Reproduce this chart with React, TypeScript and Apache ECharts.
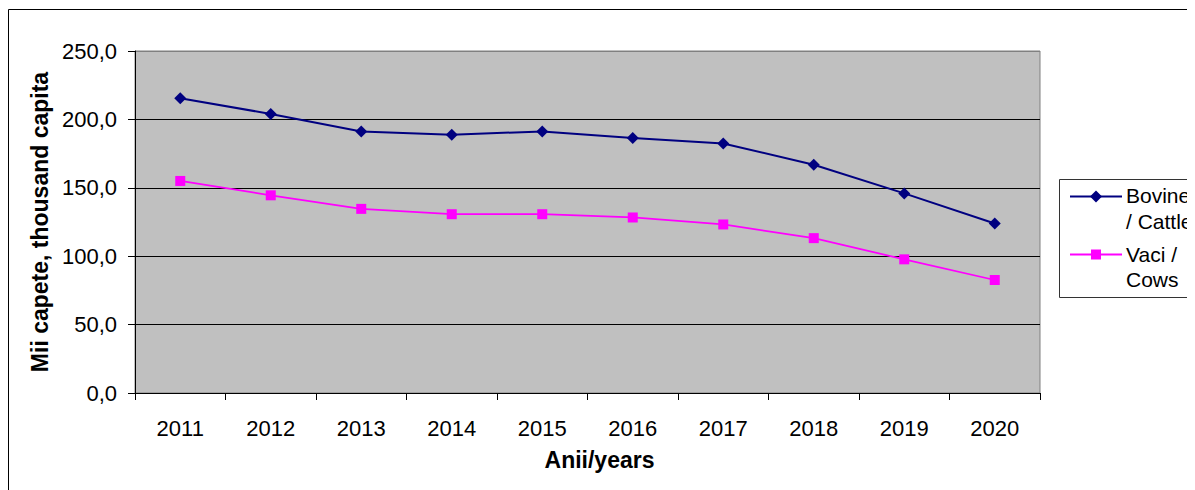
import React, { useEffect, useRef } from "react";
import * as echarts from "echarts";

const years = ["2011", "2012", "2013", "2014", "2015", "2016", "2017", "2018", "2019", "2020"];
const bovine = [215.5, 204.0, 191.2, 188.8, 191.2, 186.4, 182.4, 166.9, 145.9, 123.9];
const vaci = [155.0, 144.5, 134.6, 130.7, 130.7, 128.3, 123.2, 113.2, 97.7, 82.6];
const yTickLabels = ["0,0", "50,0", "100,0", "150,0", "200,0", "250,0"];
const seriesNames = ["Bovine / Cattle", "Vaci / Cows"];
const legendLines = [["Bovine", "/ Cattle"], ["Vaci /", "Cows"]];
const colors = ["#000080", "#FF00FF"];

const FONT = "'Liberation Sans', Arial, sans-serif";

export default function App() {
  const ref = useRef<HTMLDivElement>(null);

  useEffect(() => {
    document.documentElement.style.overflow = "hidden";
    document.body.style.overflow = "hidden";
    const chart = echarts.init(ref.current!, undefined, { renderer: "svg" });

    const legendX = 1051;
    const legendY = 171;
    const iconX1 = 1062;
    const iconX2 = 1114;
    const textX = 1118;
    const rowY = [187.7, 246];
    const lh = 25.5;

    const legendGraphics: any[] = [
      {
        type: "rect",
        shape: { x: legendX + 0.5, y: legendY + 0.5, width: 200, height: 118 },
        style: { fill: "#fff", stroke: "#333", lineWidth: 1 },
        z: 10,
      },
    ];
    legendLines.forEach((lines, i) => {
      const y = Math.round(rowY[i]) + 0.5;
      legendGraphics.push({
        type: "line",
        shape: { x1: iconX1, y1: y, x2: iconX2, y2: y },
        style: { stroke: colors[i], lineWidth: 2 },
        z: 11,
      });
      const cx = (iconX1 + iconX2) / 2;
      if (i === 0) {
        legendGraphics.push({
          type: "polygon",
          shape: { points: [[cx, y - 6], [cx + 6, y], [cx, y + 6], [cx - 6, y]] },
          style: { fill: colors[i] },
          z: 12,
        });
      } else {
        legendGraphics.push({
          type: "rect",
          shape: { x: cx - 5, y: y - 5, width: 10, height: 10 },
          style: { fill: colors[i] },
          z: 12,
        });
      }
      lines.forEach((t, j) => {
        legendGraphics.push({
          type: "text",
          x: textX,
          y: rowY[i] + j * lh,
          style: {
            text: t,
            fill: "#000",
            font: `21px ${FONT}`,
            verticalAlign: "middle",
            align: "left",
          },
          z: 12,
        });
      });
    });

    chart.setOption({
      animation: false,
      backgroundColor: "#fff",
      textStyle: { fontFamily: FONT },
      grid: {
        left: 127,
        top: 43,
        width: 905,
        height: 342,
        containLabel: false,
        outerBoundsMode: "none",
        show: true,
        backgroundColor: "#C0C0C0",
        borderColor: "#808080",
        borderWidth: 1,
      },
      legend: { show: false, data: seriesNames },
      xAxis: {
        type: "category",
        data: years,
        boundaryGap: true,
        name: "Anii/years",
        nameLocation: "middle",
        nameGap: 55,
        nameTextStyle: {
          fontSize: 23,
          fontWeight: "bold",
          color: "#000",
          fontFamily: FONT,
          padding: [0, 0, 0, 24],
        },
        axisLine: { lineStyle: { color: "#000", width: 1 } },
        axisTick: { show: true, length: 7, inside: false, lineStyle: { color: "#000" } },
        axisLabel: { fontSize: 22, color: "#000", margin: 24, fontFamily: FONT },
        splitLine: { show: false },
      },
      yAxis: {
        type: "value",
        min: 0,
        max: 250,
        interval: 50,
        name: "Mii capete, thousand capita",
        nameLocation: "middle",
        nameGap: 81,
        nameTextStyle: {
          fontSize: 23,
          fontWeight: "bold",
          color: "#000",
          fontFamily: FONT,
        },
        axisLine: { show: true, lineStyle: { color: "#000", width: 1 } },
        axisTick: { show: true, length: 7, inside: false, lineStyle: { color: "#000" } },
        axisLabel: {
          fontSize: 22,
          color: "#000",
          margin: 18,
          fontFamily: FONT,
          formatter: (v: number) => yTickLabels[Math.round(v / 50)] ?? String(v),
        },
        splitLine: {
          show: true,
          lineStyle: { color: ["#000", "#000", "#000", "#000", "#000", "#808080"], width: 1 },
        },
      },
      series: [
        {
          name: seriesNames[0],
          type: "line",
          data: bovine,
          symbol: "diamond",
          symbolSize: 12,
          lineStyle: { color: colors[0], width: 2 },
          itemStyle: { color: colors[0] },
          z: 3,
        },
        {
          name: seriesNames[1],
          type: "line",
          data: vaci,
          symbol: "rect",
          symbolSize: 10,
          lineStyle: { color: colors[1], width: 1.75 },
          itemStyle: { color: colors[1] },
          z: 2,
        },
      ],
      graphic: [
        {
          type: "rect",
          shape: { x: 0.5, y: 1.5, width: 1400, height: 700 },
          style: { fill: "none", stroke: "#000", lineWidth: 1 },
          z: 20,
          silent: true,
        },
        ...legendGraphics,
      ],
    });

    return () => chart.dispose();
  }, []);

  return <div ref={ref} style={{ width: 1187, height: 482 }} />;
}
